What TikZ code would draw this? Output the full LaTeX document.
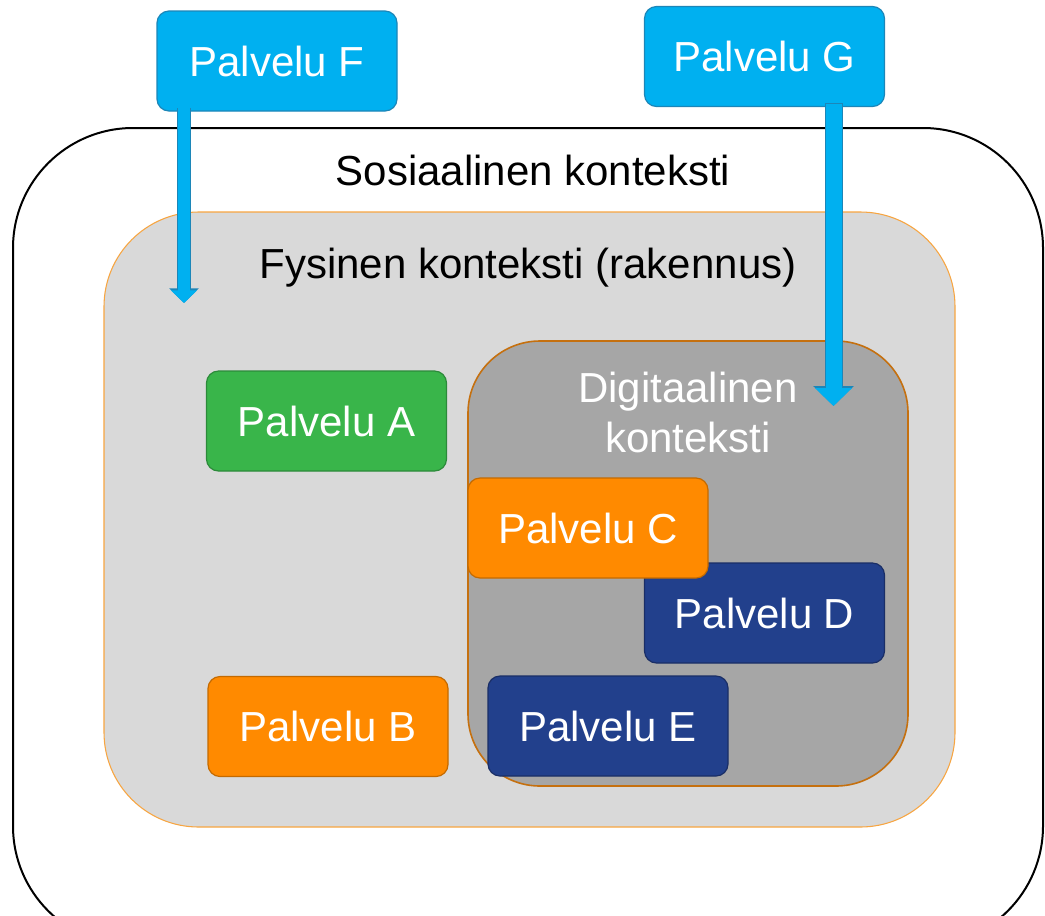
\documentclass[tikz,border=0pt]{standalone}
\usepackage{fontspec}
\setmainfont{Liberation Sans}
\usetikzlibrary{arrows.meta}
\definecolor{cyanfill}{HTML}{00B0F0}
\definecolor{cyanline}{HTML}{1C86B8}
\definecolor{greenfill}{HTML}{39B54A}
\definecolor{greenline}{HTML}{2C8A3A}
\definecolor{orangefill}{HTML}{FF8A00}
\definecolor{orangeline}{HTML}{C46A00}
\definecolor{navyfill}{HTML}{22408C}
\definecolor{navyline}{HTML}{1A2E66}
\definecolor{physfill}{HTML}{D9D9D9}
\definecolor{physline}{HTML}{F7A541}
\definecolor{digifill}{HTML}{A6A6A6}
\definecolor{digiline}{HTML}{C5700F}
\begin{document}
\begin{tikzpicture}[x=0.75pt,y=-0.75pt,font=\fontsize{31.5}{37.5}\selectfont,
  ctx/.style={rectangle,inner sep=0pt,line width=#1},
  svc/.style={rectangle,rounded corners=9pt,minimum width=180pt,minimum height=75pt,inner sep=0pt,text=white,line width=0.9pt},
  cyansvc/.style={svc,fill=cyanfill,draw=cyanline},
  greensvc/.style={svc,fill=greenfill,draw=greenline},
  orangesvc/.style={svc,fill=orangefill,draw=orangeline},
  navysvc/.style={svc,fill=navyfill,draw=navyline}]
\useasboundingbox (0,0) rectangle (1045,915);
\clip (0,0) rectangle (1045,915);
% contexts
\node[ctx=1.5pt,draw=black,rounded corners=90pt,minimum width=772.5pt,minimum height=613.5pt] (soc) at (528,537) {};
\node[ctx=0.8pt,draw=physline,fill=physfill,rounded corners=71pt,minimum width=638.25pt,minimum height=461.25pt] (phys) at (529.5,519.5) {};
\node[ctx=1.2pt,draw=digiline,fill=digifill,rounded corners=54pt,minimum width=330pt,minimum height=333.75pt] (digi) at (688,563.5) {};
\node (soclabel) at (533,170) {Sosiaalinen konteksti};
\node (physlabel) at (528,268) {Fysinen konteksti (rakennus)};
\node[text=white,align=center] (digilabel) at (688,412) {Digitaalinen\\konteksti};
% services
\node[cyansvc] (F) at (277,61) {Palvelu F};
\node[cyansvc] (G) at (764.5,56.5) {Palvelu G};
\node[greensvc] (A) at (326.5,421) {Palvelu A};
\node[orangesvc] (B) at (328,726.5) {Palvelu B};
\node[navysvc] (D) at (764.5,613) {Palvelu D};
\node[orangesvc] (C) at (588,528) {Palvelu C};
\node[navysvc] (E) at (608,726) {Palvelu E};
% arrows
\coordinate (fend) at (184,303);
\coordinate (gend) at (833.5,406);
\draw[cyanline,line width=10.5pt,-{Triangle[length=11pt,width=21.5pt]}] ([yshift=3pt]F.south -| fend) -- (fend);
\draw[cyanfill,line width=9pt,-{Triangle[length=9.5pt,width=19pt]}] ([yshift=2.5pt]F.south -| fend) -- (fend);
\draw[cyanline,line width=13.5pt,-{Triangle[length=15pt,width=29.5pt]}] ([yshift=3pt]G.south -| gend) -- (gend);
\draw[cyanfill,line width=12pt,-{Triangle[length=13.5pt,width=27pt]}] ([yshift=2.5pt]G.south -| gend) -- (gend);
\end{tikzpicture}
\end{document}
